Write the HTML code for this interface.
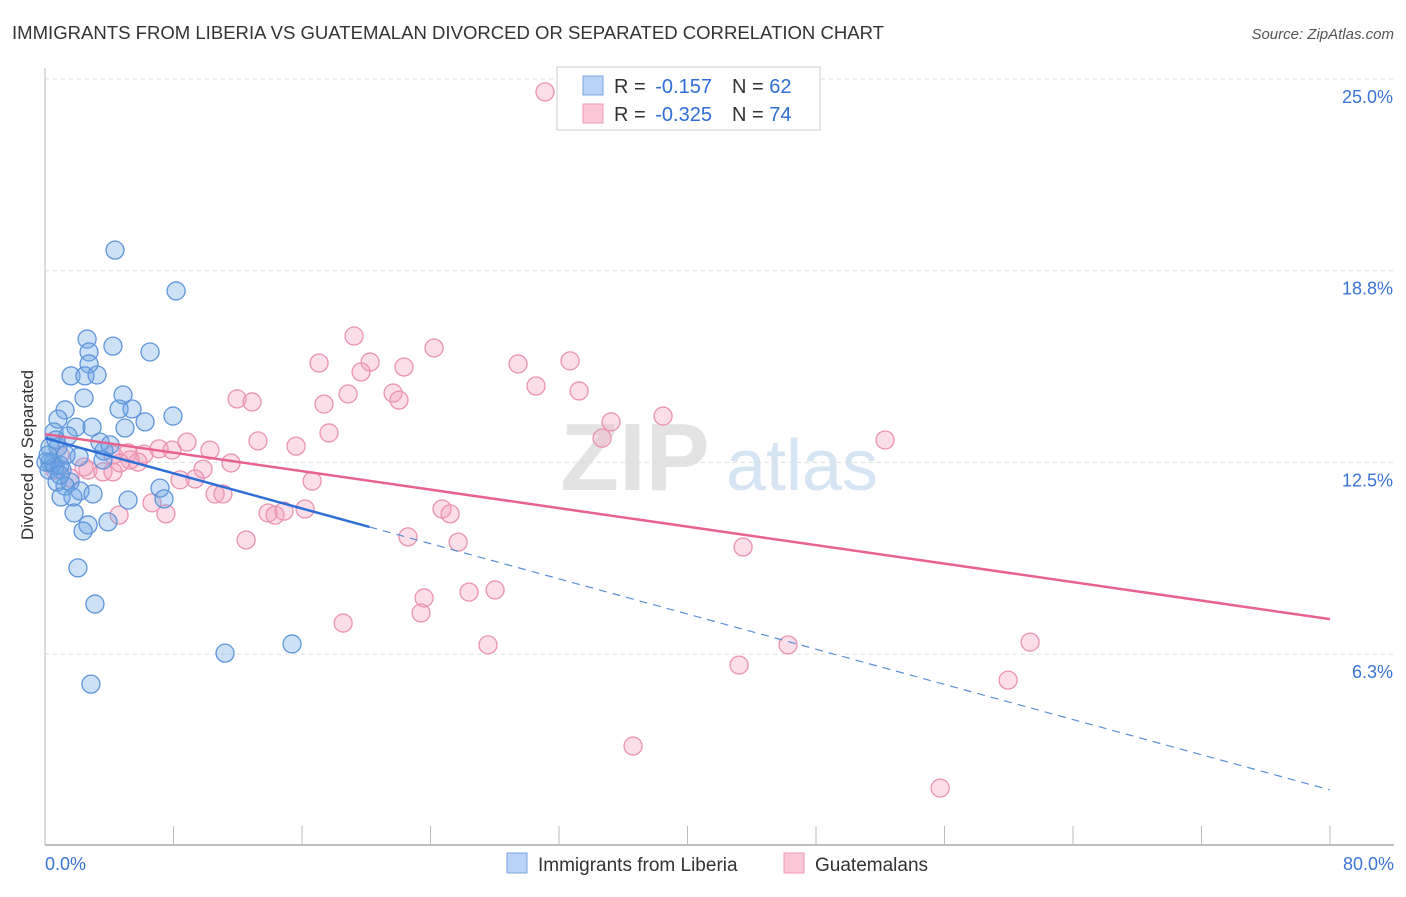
<!DOCTYPE html>
<html><head><meta charset="utf-8"><style>
body{margin:0;background:#fff;font-family:"Liberation Sans",sans-serif}
svg text{font-family:"Liberation Sans",sans-serif}
</style></head><body>
<svg id="chart" width="1406" height="892" viewBox="0 0 1406 892" xmlns="http://www.w3.org/2000/svg">
<text x="12" y="39" font-size="18" fill="#333" textLength="872" lengthAdjust="spacingAndGlyphs">IMMIGRANTS FROM LIBERIA VS GUATEMALAN DIVORCED OR SEPARATED CORRELATION CHART</text>
<text x="1394" y="39" font-size="15" fill="#555" font-style="italic" text-anchor="end">Source: ZipAtlas.com</text>
<g>
<text x="635" y="490" font-size="96" fill="#e3e3e3" font-family="Liberation Serif" text-anchor="middle" font-weight="bold">ZIP</text>
<text x="802" y="490" font-size="72" fill="#d6e4f3" text-anchor="middle">atlas</text>
</g>
<g id="grid"></g>
<g id="axes"></g>
<g id="marks"></g>
<text transform="translate(33,455) rotate(-90)" font-size="17" fill="#333" text-anchor="middle">Divorced or Separated</text>
<g>
<rect x="557" y="67" width="263" height="63" fill="#fff" stroke="#ccc"/>
<rect x="583" y="76" width="20" height="19" fill="#b8d3f5" stroke="#7aa6e0"/>
<rect x="583" y="104" width="20" height="19" fill="#fcc6d6" stroke="#eb9ab4"/>
<text x="614" y="93" font-size="20" fill="#333">R = <tspan dx="4" fill="#2f6ed6">-0.157</tspan><tspan dx="20">N = </tspan><tspan fill="#2f6ed6">62</tspan></text>
<text x="614" y="121" font-size="20" fill="#333">R = <tspan dx="4" fill="#2f6ed6">-0.325</tspan><tspan dx="20">N = </tspan><tspan fill="#2f6ed6">74</tspan></text>
</g>
<g>
<rect x="507" y="853" width="20" height="20" fill="#b8d3f5" stroke="#7aa6e0"/>
<text x="538" y="871" font-size="19" fill="#333">Immigrants from Liberia</text>
<rect x="784" y="853" width="20" height="20" fill="#fcc6d6" stroke="#eb9ab4"/>
<text x="815" y="871" font-size="19" fill="#333">Guatemalans</text>
</g>
</svg>
<script>
const yTicks=[6.25,12.5,18.75,25];
const yTickLabels=["6.3%","12.5%","18.8%","25.0%"];
const xTicks=[0,8,16,24,32,40,48,56,64,72,80];
const xEndLabels=["0.0%","80.0%"];
const liberiaX=[4.36,8.16,2.62,4.23,6.54,2.74,2.74,1.62,2.49,3.24,4.86,2.43,4.61,5.42,1.25,0.81,7.97,6.23,4.98,1.93,2.93,0.56,1.43,3.42,0.81,3.67,2.12,0.31,0.31,0.62,1.06,0.25,0.75,1.56,1.25,2.18,2.99,5.17,7.16,7.41,1.74,1.00,1.81,2.68,2.37,3.92,2.05,3.11,11.21,15.38,2.86,0.50,0.93,0.06,0.19,1.31,3.61,0.68,0.93,4.05];
const liberiaY=[19.42,18.09,16.52,16.29,16.10,16.10,15.71,15.32,15.32,15.35,14.70,14.60,14.24,14.24,14.21,13.91,14.01,13.82,13.62,13.65,13.65,13.49,13.36,13.16,13.00,12.87,12.68,13.00,12.51,12.38,12.25,12.25,11.86,11.86,11.73,11.57,11.47,11.27,11.66,11.31,11.37,11.37,10.85,10.46,10.26,10.56,9.06,7.88,6.28,6.58,5.27,12.48,12.41,12.51,12.74,12.74,12.58,13.23,12.09,13.07];
const guatX=[31.13,19.24,17.06,24.22,20.24,29.45,32.69,22.35,19.68,30.57,33.25,21.67,18.87,22.04,17.37,11.96,12.89,38.48,35.24,17.68,34.68,52.30,13.26,15.63,8.84,10.27,6.16,7.10,7.91,5.17,4.23,5.79,11.58,9.84,2.68,3.61,4.23,2.43,9.34,16.63,8.41,5.29,4.67,10.59,11.08,6.66,4.61,7.53,13.89,14.32,14.88,16.19,24.72,25.22,22.60,12.52,25.72,43.46,23.60,26.40,28.02,23.41,18.56,27.58,46.26,61.33,43.21,59.96,36.61,55.73,0.62,1.56,0.93];
const guatY=[24.58,16.62,15.74,16.23,15.77,15.71,15.81,15.61,15.45,14.99,14.83,14.76,14.73,14.53,14.40,14.57,14.47,14.01,13.82,13.46,13.29,13.23,13.20,13.03,13.16,12.90,12.77,12.94,12.90,12.81,12.74,12.51,12.48,12.28,12.25,12.19,12.19,12.35,11.96,11.89,11.93,12.58,12.48,11.47,11.47,11.18,10.78,10.82,10.85,10.78,10.91,10.98,10.98,10.82,10.07,9.97,9.90,9.74,8.08,8.27,8.34,7.59,7.26,6.55,6.55,6.64,5.89,5.40,3.25,1.88,12.25,11.99,12.74];
const liberiaTrend=[13.29,1.82];
const liberiaSolidEnd=20.2;
const guatTrend=[13.42,7.39];

const NS="http://www.w3.org/2000/svg";
const X0=45,X1=1330,Y25=79,PXPER=30.67,YB=845;
const sx=v=>X0+(v/80)*(X1-X0);
const sy=v=>Y25+(25-v)*PXPER;
function mk(tag,attrs,parent){const e=document.createElementNS(NS,tag);for(const k in attrs)e.setAttribute(k,attrs[k]);parent.appendChild(e);return e;}
const grid=document.getElementById('grid'),axes=document.getElementById('axes'),marks=document.getElementById('marks');
yTicks.forEach((t,i)=>{
 const l=mk('line',{x1:X0,x2:1394,y1:sy(t),y2:sy(t),stroke:'#ddd','stroke-dasharray':'4,4'},grid);
 
 
 const tx=mk('text',{x:1393,y:sy(t)+24,'font-size':18,fill:'#3b74d4','text-anchor':'end'},axes);
 tx.textContent=yTickLabels[i];
 
 
});
const ax=mk('line',{x1:X0,x2:1394,y1:YB,y2:YB,stroke:'#aaa','stroke-width':1.5},axes);


const ay=mk('line',{x1:X0,x2:X0,y1:68,y2:YB,stroke:'#bbb'},axes);


xTicks.forEach(t=>{
 const l=mk('line',{x1:sx(t),x2:sx(t),y1:826,y2:YB,stroke:'#bbb'},axes);
 
 
});
const xl0=mk('text',{x:45,y:870,'font-size':18,fill:'#3b74d4'},axes);xl0.textContent=xEndLabels[0];


const xl1=mk('text',{x:1394,y:870,'font-size':18,fill:'#3b74d4','text-anchor':'end'},axes);xl1.textContent=xEndLabels[1];



guatX.forEach((v,i)=>{
 const c=mk('circle',{cx:sx(v),cy:sy(guatY[i]),r:9,fill:'rgba(244,160,188,0.35)',stroke:'#eb92b0','stroke-width':1.3},marks);
 
 
});
liberiaX.forEach((v,i)=>{
 const c=mk('circle',{cx:sx(v),cy:sy(liberiaY[i]),r:9,fill:'rgba(110,165,230,0.35)',stroke:'#5f95db','stroke-width':1.3},marks);
 
 
});
const lv=x=>liberiaTrend[0]+(liberiaTrend[1]-liberiaTrend[0])*x/80;
const t1=mk('line',{x1:sx(0),y1:sy(lv(0)),x2:sx(liberiaSolidEnd),y2:sy(lv(liberiaSolidEnd)),stroke:'#2d6fd6','stroke-width':2.5},marks);


const t2=mk('line',{x1:sx(liberiaSolidEnd),y1:sy(lv(liberiaSolidEnd)),x2:sx(80),y2:sy(lv(80)),stroke:'#5b8fd6','stroke-width':1.2,'stroke-dasharray':'8,6'},marks);


const t3=mk('line',{x1:sx(0),y1:sy(guatTrend[0]),x2:sx(80),y2:sy(guatTrend[1]),stroke:'#e8628f','stroke-width':2.5},marks);


</script>
</body></html>
